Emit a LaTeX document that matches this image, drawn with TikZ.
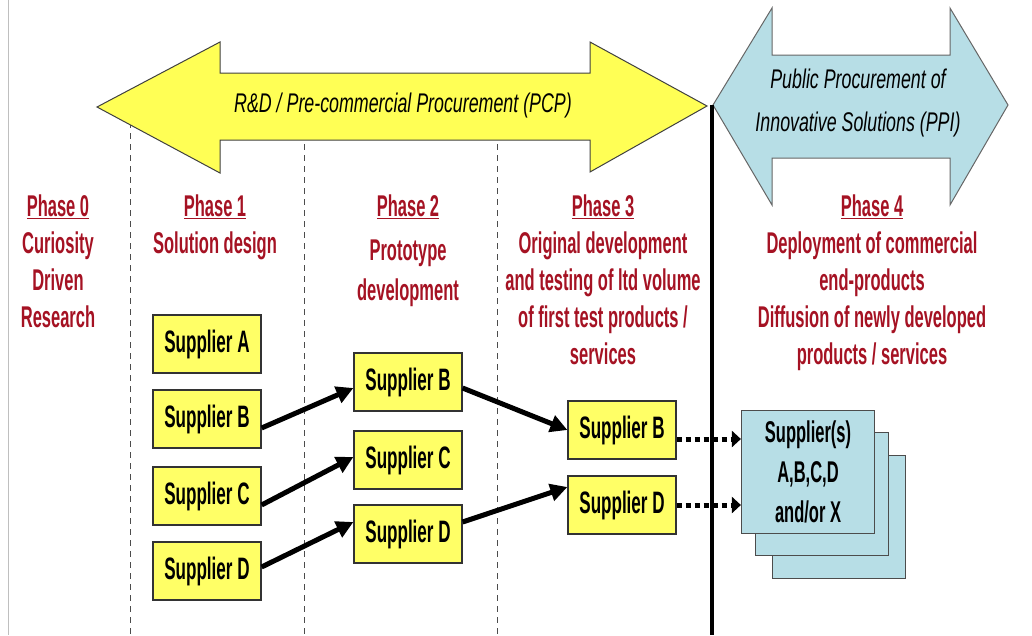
\documentclass[tikz,border=0pt]{standalone}
\usepackage{fontspec}
\setmainfont{Liberation Sans}[FakeStretch=0.55]
\newfontfamily\bannerfont{Liberation Sans}[FakeStretch=0.66]
\usetikzlibrary{arrows.meta}
\usetikzlibrary{positioning}
\definecolor{phasered}{RGB}{165,18,35}
\definecolor{bannerYellow}{RGB}{255,255,85}
\definecolor{boxYellow}{RGB}{255,255,102}
\definecolor{ppiBlue}{RGB}{183,222,230}
\tikzstyle{supplier} = [draw=black!80, line width=1.2pt, fill=boxYellow,
minimum width=108pt, minimum height=58pt, inner sep=0pt,
font=\bfseries\fontsize{31}{36}\selectfont]
\tikzstyle{line} = [draw, line width=5pt, -{Triangle[length=17pt,width=17pt]}]

\begin{document}
\begin{tikzpicture}[x=1pt, y=-1pt,
	phase/.style={text=phasered, align=center, anchor=north, inner sep=0pt,
	font=\bfseries\fontsize{30}{37}\selectfont},
	banner/.style={align=center, inner sep=0pt,
	font=\bannerfont\itshape\fontsize{27}{43}\selectfont},
	stackbox/.style={draw=black!70, line width=1.2pt, fill=ppiBlue,
	minimum width=133pt, minimum height=123pt, inner sep=0pt},
	dotline/.style={draw, line width=5pt, dash pattern=on 5pt off 4pt,
	-{Triangle[length=9pt,width=16pt]}}]
	\useasboundingbox (0,0) rectangle (1032,635);
	\draw [black!25, line width=1pt] (8,0) -- (8,635);
	%% phase separators
	\draw [black!70, dash pattern=on 6pt off 5pt] (130,100) -- (130,635);
	\draw [black!70, dash pattern=on 6pt off 5pt] (304,100) -- (304,635);
	\draw [black!70, dash pattern=on 6pt off 5pt] (497,100) -- (497,635);
	%% The two banners
	\draw [black!75, line width=1pt, fill=bannerYellow]
	(97,107) -- (220,42) -- (220,73) -- (590,73) -- (590,42) -- (707,106)
	-- (590,172) -- (590,140) -- (220,140) -- (220,173) -- cycle;
	\draw [black!60, line width=1pt, fill=ppiBlue]
	(713,105) -- (772,8) -- (772,55) -- (950,55) -- (950,8) -- (1008,105)
	-- (950,205) -- (950,158) -- (772,158) -- (772,205) -- cycle;
	\node [banner] (pcp) at (403,106) {R\&D / Pre-commercial Procurement (PCP)};
	\node [banner] (ppi) at (858,103) {Public Procurement of\\Innovative Solutions (PPI)};
	\draw [line width=4pt] (712,105) -- (712,635);
	%% Phase titles
	\node [phase] (ph0) at (58,195) {\underline{Phase 0}\\Curiosity\\Driven\\Research};
	\node [phase] (ph1) at (215,195) {\underline{Phase 1}\\Solution design};
	\node [phase] (ph2) at (408,195) {\underline{Phase 2}\\[7pt]Prototype\\[3pt]development};
	\node [phase] (ph3) at (603,195) {\underline{Phase 3}\\Original development\\
	and testing of ltd volume\\of first test products /\\services};
	\node [phase] (ph4) at (872,195) {\underline{Phase 4}\\Deployment of commercial\\
	end-products\\Diffusion of newly developed\\products / services};
	%% Suppliers
	\node [supplier] (s1A) at (207,344) {Supplier A};
	\node [supplier] (s1B) at (207,419) {Supplier B};
	\node [supplier] (s1C) at (207,496) {Supplier C};
	\node [supplier] (s1D) at (207,571) {Supplier D};
	\node [supplier] (s2B) at (408,382) {Supplier B};
	\node [supplier] (s2C) at (408,460) {Supplier C};
	\node [supplier] (s2D) at (408,534) {Supplier D};
	\node [supplier] (s3B) at (622,430) {Supplier B};
	\node [supplier] (s3D) at (622,505) {Supplier D};
	%% the stack of PPI suppliers
	\node [stackbox] (sX3) at (839,517) {};
	\node [stackbox] (sX2) at (822,494) {};
	\node [stackbox, align=center, font=\bfseries\fontsize{30}{40}\selectfont]
	(sX) at (808,472) {Supplier(s)\\A,B,C,D\\and/or X};
	%% Arrows
	\path [line] ([yshift=-9pt]s1B.east) to ([yshift=-6pt]s2B.west);
	\path [line] ([yshift=-9pt]s1C.east) to ([yshift=3pt]s2C.west);
	\path [line] ([yshift=4pt]s1D.east) to ([yshift=12pt]s2D.west);
	\path [line] ([yshift=-6pt]s2B.east) to (s3B.west);
	\path [line] ([yshift=12pt]s2D.east) to ([yshift=18pt]s3D.west);
	\path [dotline] ([yshift=-9pt]s3B.east) to ([yshift=-9pt]s3B.east -| sX.west);
	\path [dotline] (s3D.east) to (s3D.east -| sX.west);
\end{tikzpicture}
\end{document}
